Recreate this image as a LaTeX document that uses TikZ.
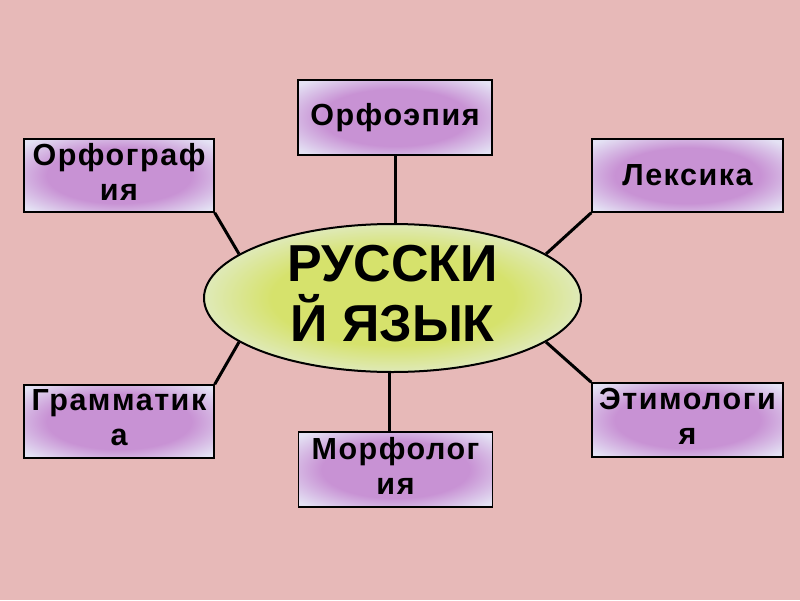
\documentclass[tikz,border=0pt]{standalone}
\usepackage{fontspec}
\setmainfont{Liberation Sans}
\usetikzlibrary{shapes.geometric}
\definecolor{bgpink}{RGB}{231,185,184}
\definecolor{boxin}{RGB}{200,146,212}
\definecolor{boxout}{RGB}{228,226,244}
\definecolor{ellin}{RGB}{214,226,108}
\definecolor{ellout}{RGB}{226,236,210}
\pgfdeclareradialshading{boxshade}{\pgfpoint{0bp}{0bp}}{color(0bp)=(boxin); color(19bp)=(boxin); color(33bp)=(boxout); color(50bp)=(boxout)}
\pgfdeclareradialshading{ellshade}{\pgfpoint{0bp}{0bp}}{color(0bp)=(ellin); color(16bp)=(ellin); color(28bp)=(ellout); color(50bp)=(ellout)}
\newfontfamily\boxfont[LetterSpace=5]{Liberation Sans}
\tikzset{
  topicbox/.style={draw=black, line width=1.5pt, shading=boxshade, rectangle, inner sep=0pt},
  topictext/.style={font=\boxfont\fontsize{30.5}{35}\selectfont\bfseries, align=center, inner sep=0pt, text=black},
  link/.style={draw=black, line width=3pt},
  mainell/.style={draw=black, line width=2pt, shading=ellshade, ellipse, inner sep=0pt, minimum width=377pt, minimum height=148pt},
  maintext/.style={font=\fontsize{52}{60}\selectfont\bfseries, align=center, inner sep=0pt, text=black}
}
\begin{document}
\begin{tikzpicture}[x=1pt,y=-1pt]
\fill[bgpink] (0,0) rectangle (800,600);
\useasboundingbox (0,0) rectangle (800,600);
% central ellipse
\node[mainell] (ell) at (392.5,298) {};
\node[maintext] (elltext) at (392.5,294) {РУССКИ\\Й ЯЗЫК};
% boxes
\node[topicbox, minimum width=194pt, minimum height=75pt] (orfo) at (395,117.5) {};
\node[topictext] (orfot) at (orfo) {Орфоэпия};
\node[topicbox, minimum width=190pt, minimum height=73pt] (orfg) at (119,175.5) {};
\node[topictext] (orfgt) at (119,172) {Орфограф\\ия};
\node[topicbox, minimum width=191pt, minimum height=73pt] (leks) at (687.5,175.5) {};
\node[topictext] (lekst) at (leks) {Лексика};
\node[topicbox, minimum width=190pt, minimum height=73pt] (gram) at (119,421.5) {};
\node[topictext] (gramt) at (119,418) {Грамматик\\а};
\node[topicbox, minimum width=191pt, minimum height=74pt] (etim) at (687.5,420) {};
\node[topictext] (etimt) at (687.5,416.5) {Этимологи\\я};
\node[topicbox, minimum width=194pt, minimum height=75pt] (morf) at (395.5,469.5) {};
\node[topictext] (morft) at (395.5,466) {Морфолог\\ия};
% connectors
\draw[link] (orfo.south) -- (orfo.south |- ell.north);
\draw[link] (orfg.south east) -- (ell.164);
\draw[link] (leks.south west) -- (ell.16);
\draw[link] (gram.north east) -- (ell.196);
\draw[link] (etim.north west) -- (ell.344);
\draw[link] ([xshift=-6pt]morf.north) -- ([xshift=-6pt]morf.north |- ell.south);
\end{tikzpicture}
\end{document}
